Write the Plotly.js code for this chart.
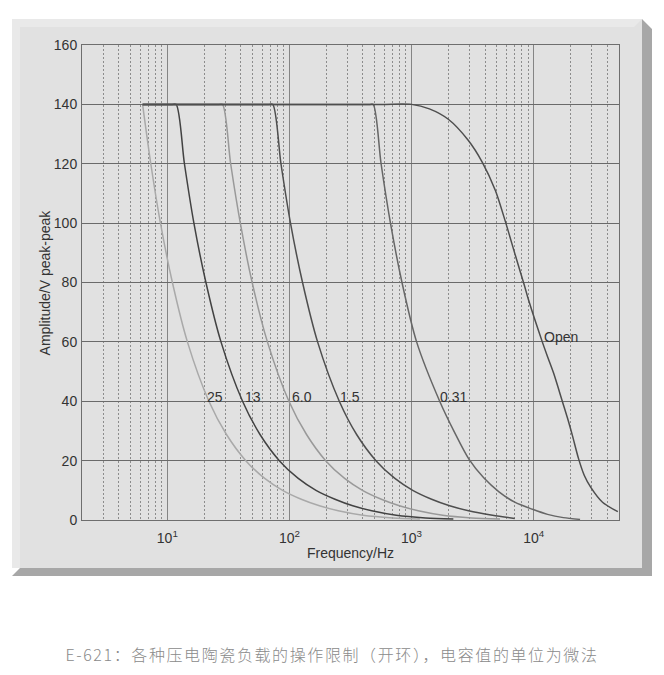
<!DOCTYPE html>
<html>
<head>
<meta charset="utf-8">
<script src="https://cdn.plot.ly/plotly-3.0.1.min.js"></script>
<style>
  html, body { margin: 0; padding: 0; background: #ffffff; }
  #wrap { position: relative; width: 664px; height: 675px; overflow: hidden; }
  #bg { position: absolute; left: 0; top: 0; }
  #chart { position: absolute; left: 0; top: 0; width: 664px; height: 675px; }
  #caption {
    position: absolute; left: 0; top: 642px; width: 664px; text-align: center;
    font-family: "Noto Sans CJK SC", "Noto Sans", sans-serif; font-size: 16px;
    color: #8a8a8a; letter-spacing: 1.6px; font-weight: 300;
  }
</style>
</head>
<body>
<div id="wrap">
  <svg id="bg" width="664" height="675" xmlns="http://www.w3.org/2000/svg">
    <polygon points="642,19 652,29 652,576 12,576 20,568 642,568" fill="#a7a7a7"/>
    <rect x="12" y="19" width="630" height="549" fill="#e1e1e1"/>
    <polygon points="12,19 642,19 634,27 20,27 20,568 12,568" fill="#e9e9e9"/>
  </svg>
  <div id="chart"></div>
  <div id="caption">E-621：各种压电陶瓷负载的操作限制（开环），电容值的单位为微法</div>
</div>
<script>
// ---- data (frequency in Hz, amplitude in V peak-peak) ----
const seriesNames = ["25", "13", "6.0", "1.5", "0.31", "Open"];

const freq25 = [6.27, 7.32, 8.78, 11.0, 14.6, 21.9, 30.5, 43.9, 62.7, 87.8, 125, 176, 251, 400, 700, 1170];
const amp25  = [140, 120, 100, 80, 60, 40, 28.8, 20, 14, 10, 7.0, 4.8, 3.1, 1.6, 0.7, 0.3];

const freq13 = [6.27, 10.8, 11.8, 13.8, 16.5, 20.7, 27.5, 41.3, 57.4, 82.6, 118, 165, 236, 330, 472, 750, 1300, 2200];
const amp13  = [140, 140, 140, 120, 100, 80, 60, 40, 28.8, 20, 14, 10, 7.0, 4.8, 3.1, 1.6, 0.7, 0.3];

const freq6  = [6.27, 26, 28.3, 33.0, 39.6, 49.5, 66.0, 99, 138, 198, 283, 396, 566, 795, 1135, 1800, 3100, 5300];
const amp6   = [140, 140, 140, 120, 100, 80, 60, 40, 28.8, 20, 14, 10, 7.0, 4.8, 3.1, 1.6, 0.7, 0.3];

const freq15 = [6.27, 67, 73, 85.2, 102, 128, 170, 256, 355, 511, 730, 1022, 1460, 2050, 2930, 4600, 7000];
const amp15  = [140, 140, 140, 120, 100, 80, 60, 40, 28.8, 20, 14, 10, 7.0, 4.8, 3.1, 1.6, 0.5];

const freq031 = [6.27, 450, 485, 563, 672, 835, 1100, 1700, 2250, 2950, 3900, 5200, 7000, 9800, 13000, 17500, 24000];
const amp031  = [140, 140, 140, 120, 100, 80, 60, 40, 29.5, 20.5, 14.2, 9.5, 6.0, 3.6, 1.9, 0.8, 0.2];

const freqOpen = [6.27, 550, 1000, 1400, 2000, 2900, 3800, 4860, 5870, 7100, 8400, 9100, 11770, 13000, 14560, 17170, 18870, 20750, 23380, 26000, 29370, 36640, 48900];
const ampOpen  = [140, 140, 140, 138.5, 135, 128, 120.5, 111, 100.5, 89, 79, 74, 60, 55, 49.5, 40, 34.5, 28.5, 20.5, 15, 11, 6, 2.8];

const seriesFreq = [freq25, freq13, freq6, freq15, freq031, freqOpen];
const seriesAmp  = [amp25, amp13, amp6, amp15, amp031, ampOpen];
const seriesColor = ["#a9a9a9", "#424242", "#999999", "#4e4e4e", "#666666", "#4e4e4e"];

// curve labels
const labelText = ["25", "13", "6.0", "1.5", "0.31", "Open"];
const labelFreq = [24.5, 50.2, 125.6, 313, 2208, 16750];
const labelAmp  = [41.5, 41.5, 41.5, 41.5, 41.5, 61.7];

// axis ticks
const xTickVals = [10, 100, 1000, 10000];
const xTickText = ["10<sup>1</sup>", "10<sup>2</sup>", "10<sup>3</sup>", "10<sup>4</sup>"];
const yTickVals = [0, 20, 40, 60, 80, 100, 120, 140, 160];
const xMin = 2, xMax = 50000;

// minor (dotted) grid positions: 2..9 times each decade
const minorVals = [];
for (let k = 0; k <= 4; k++) {
  for (let d = 2; d <= 9; d++) {
    const v = d * Math.pow(10, k);
    if (v > xMin && v < xMax) minorVals.push(v);
  }
}

const traces = seriesNames.map((n, i) => ({
  type: "scatter", mode: "lines", name: n,
  x: seriesFreq[i], y: seriesAmp[i],
  line: { color: seriesColor[i], width: 1.5, shape: "spline", smoothing: 0.8 },
  hoverinfo: "skip"
}));

const fontFam = "Liberation Sans, Arial, sans-serif";

const annotations = labelText.map((t, i) => ({
  x: Math.log10(labelFreq[i]), y: labelAmp[i], xref: "x", yref: "y",
  text: t, showarrow: false, xanchor: "center", yanchor: "middle",
  font: { family: fontFam, size: 14, color: "#333333" }
}));
// y-axis title placed precisely as an annotation
annotations.push({
  x: -0.069, y: 0.5, xref: "paper", yref: "paper", textangle: -90,
  text: "Amplitude/V peak-peak", showarrow: false, xanchor: "center", yanchor: "middle",
  font: { family: fontFam, size: 14, color: "#333333" }
});

const layout = {
  width: 664, height: 675,
  margin: { l: 82, r: 45, t: 45, b: 155, pad: 0 },
  paper_bgcolor: "rgba(0,0,0,0)",
  plot_bgcolor: "rgba(0,0,0,0)",
  showlegend: false,
  font: { family: fontFam, size: 14, color: "#333333" },
  xaxis: {
    type: "log",
    range: [Math.log10(xMin), Math.log10(xMax)],
    tickmode: "array", tickvals: xTickVals, ticktext: xTickText,
    ticks: "", showgrid: true, gridcolor: "#858585", gridwidth: 1,
    zeroline: false, showline: true, linecolor: "#6e6e6e", linewidth: 1, mirror: true,
    tickfont: { size: 14, color: "#333333" },
    ticklabelstandoff: 5,
    minor: { tickmode: "array", tickvals: minorVals, showgrid: true, gridcolor: "#8c8c8c",
             gridwidth: 1, griddash: "2px,2px", ticks: "" },
    title: { text: "Frequency/Hz", standoff: 3, font: { size: 14, color: "#333333" } },
    fixedrange: true
  },
  yaxis: {
    range: [0, 160],
    tickmode: "array", tickvals: yTickVals,
    ticks: "", showgrid: true, gridcolor: "#6a6a6a", gridwidth: 1,
    zeroline: false, showline: true, linecolor: "#6e6e6e", linewidth: 1, mirror: true,
    tickfont: { size: 14, color: "#333333" },
    ticklabelstandoff: 1,
    fixedrange: true
  },
  annotations: annotations
};

Plotly.newPlot("chart", traces, layout, { displayModeBar: false, staticPlot: true });
</script>
</body>
</html>
